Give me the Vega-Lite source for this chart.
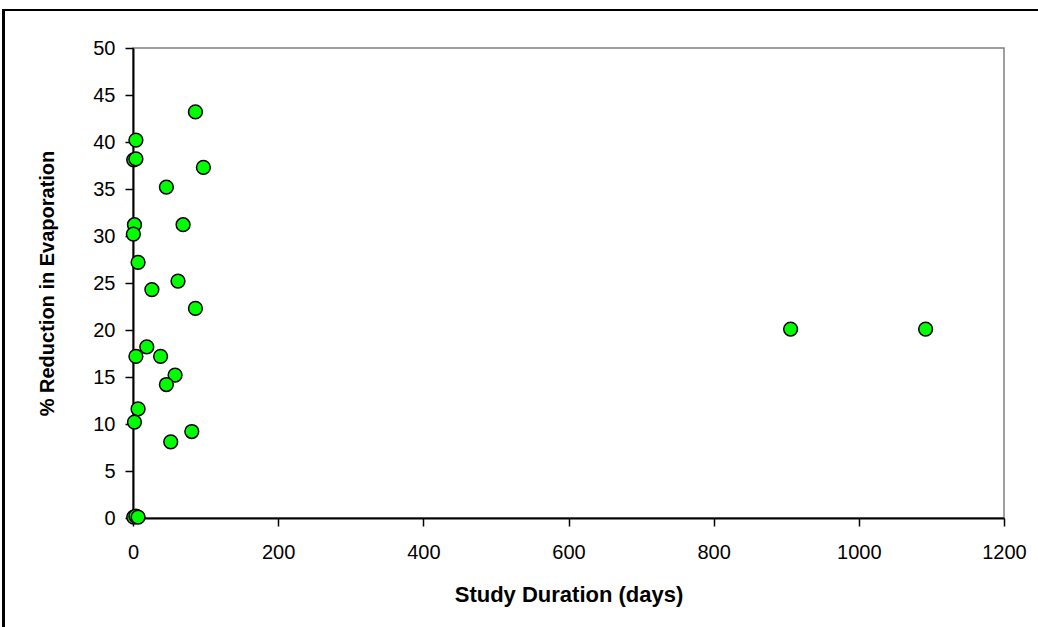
{
  "$schema": "https://vega.github.io/schema/vega-lite/v6.json",
  "width": 871,
  "height": 470,
  "autosize": {"type": "none"},
  "padding": {"left": 133, "top": 48, "right": 34, "bottom": 109},
  "background": "white",
  "config": {
    "view": {"stroke": "#808080", "strokeWidth": 1.5},
    "font": "Liberation Sans",
    "axis": {
      "grid": false,
      "labelFlush": false,
      "domainColor": "black",
      "domainWidth": 2,
      "tickColor": "black",
      "tickWidth": 1.5,
      "tickSize": 8,
      "labelFont": "Liberation Sans",
      "labelFontSize": 20,
      "labelColor": "black",
      "titleFont": "Liberation Sans",
      "titleFontSize": 20,
      "titleFontWeight": "bold",
      "titleColor": "black"
    }
  },
  "data": {
    "values": [
      {"days": 86, "reduction": 43.2},
      {"days": 4, "reduction": 40.2},
      {"days": 1, "reduction": 38.1},
      {"days": 4, "reduction": 38.2},
      {"days": 97, "reduction": 37.3},
      {"days": 46, "reduction": 35.2},
      {"days": 2, "reduction": 31.2},
      {"days": 69, "reduction": 31.2},
      {"days": 0.5, "reduction": 30.2},
      {"days": 7, "reduction": 27.2},
      {"days": 26, "reduction": 24.3},
      {"days": 62, "reduction": 25.2},
      {"days": 86, "reduction": 22.3},
      {"days": 19, "reduction": 18.2},
      {"days": 4, "reduction": 17.2},
      {"days": 38, "reduction": 17.2},
      {"days": 58, "reduction": 15.2},
      {"days": 46, "reduction": 14.2},
      {"days": 7, "reduction": 11.6},
      {"days": 2, "reduction": 10.2},
      {"days": 52, "reduction": 8.1},
      {"days": 81, "reduction": 9.2},
      {"days": 1, "reduction": 0.1},
      {"days": 4, "reduction": 0.2},
      {"days": 7, "reduction": 0.1},
      {"days": 906, "reduction": 20.1},
      {"days": 1092, "reduction": 20.1}
    ]
  },
  "layer": [
    {
      "mark": {"type": "rect", "fill": null, "stroke": "black", "strokeWidth": 2, "clip": false},
      "encoding": {
        "x": {"datum": -178, "type": "quantitative", "scale": {"domain": [0, 1200], "nice": false, "zero": false}},
        "x2": {"datum": 1600},
        "y": {"datum": 54.05, "type": "quantitative", "scale": {"domain": [0, 50], "nice": false, "zero": false}},
        "y2": {"datum": -30}
      }
    },
    {
      "mark": {"type": "point", "shape": "circle", "filled": true, "fill": "#00FF00", "stroke": "black", "strokeWidth": 1.5, "size": 190, "opacity": 1},
      "encoding": {
        "x": {
          "field": "days",
          "type": "quantitative",
          "scale": {"domain": [0, 1200], "nice": false, "zero": false},
          "axis": {"values": [0, 200, 400, 600, 800, 1000, 1200], "format": "d", "title": "Study Duration (days)", "labelPadding": 16, "titlePadding": 22, "titleFontSize": 22}
        },
        "y": {
          "field": "reduction",
          "type": "quantitative",
          "scale": {"domain": [0, 50], "nice": false, "zero": false},
          "axis": {"values": [0, 5, 10, 15, 20, 25, 30, 35, 40, 45, 50], "format": "d", "title": "% Reduction in Evaporation", "labelPadding": 10, "titlePadding": 35}
        }
      }
    }
  ]
}
